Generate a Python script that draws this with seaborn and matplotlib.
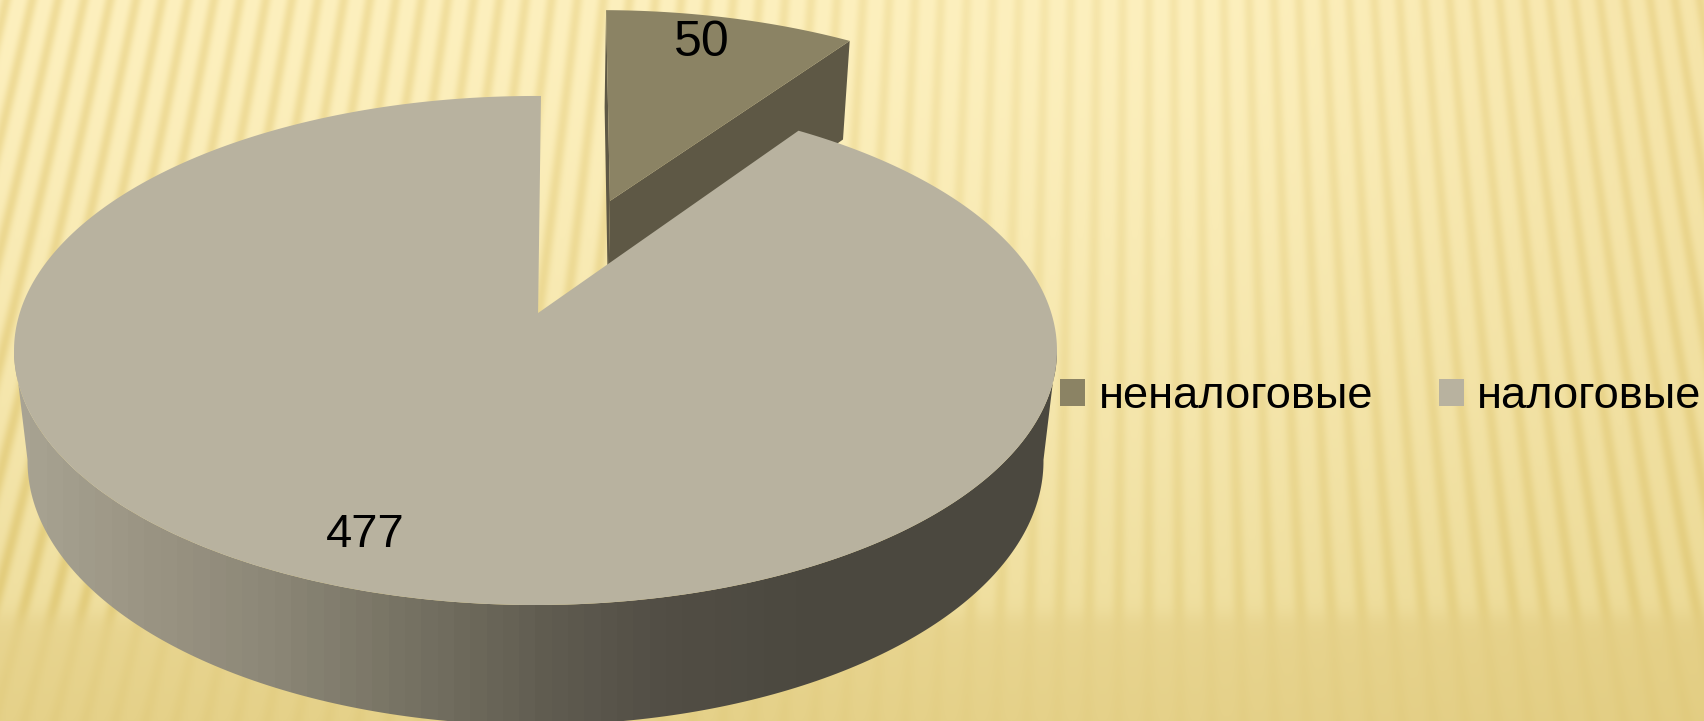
import numpy as np
import matplotlib
matplotlib.use("Agg")
import matplotlib.pyplot as plt
from matplotlib.patches import Patch, Polygon
import seaborn as sns

# Chart values
categories = ['неналоговые', 'налоговые']
values = [50, 477]

# Colours
slice_colors = ['#8B8364', '#B8B29F']
side_color = '#5E5845'
rim_stops = ['#A8A393', '#9A9483', '#8B8676', '#767263', '#625E52',
             '#524E45', '#4C4940', '#4B483F', '#4B483F']

sns.set_theme(style="white")
plt.rcParams['font.family'] = ['Liberation Sans', 'DejaVu Sans']

W, H = 1704, 721

# Perspective of the pie, in pixels of the picture
center_x, center_y = 535.5, 313
scale_u, scale_v = 515.8, 249
persp = 0.1473
thickness = 113
base_persp = 0.026
start_angle = 0.7
explode = 0.506


def project(theta, radius=1.0, shift=(0.0, 0.0), base=False):
    # theta in degrees, clockwise from the back of the pie
    t = np.radians(theta)
    u = radius * np.sin(t) + shift[0]
    v = radius * np.cos(t) + shift[1]
    w = 1 + persp * v + (base_persp if base else 0)
    x = center_x + scale_u * u / w
    y = center_y - (scale_v * v - (thickness if base else 0)) / w
    return np.column_stack([x, y])


def background():
    x, y = np.meshgrid(np.arange(W), np.arange(H))
    tilt = np.interp(x, [0, 1150, 1704], [0.25, 0.0, -0.18])
    phase = (x + tilt * (y - 360)) / 28.0
    stripe = (0.5 + 0.5 * np.cos(2 * np.pi * phase)) ** 2
    t = y / (H - 1)
    fade = 1 / (1 + np.exp((y - 615) / 6.0))
    side = np.clip((x - 1200) / 500.0, 0, 1)
    right = side * (1 - t) + side * t * 0.3
    light = np.array([253, 240, 190])[None, None, :] * (1 - t[..., None] ** 1.3) \
        + np.array([236, 219, 152])[None, None, :] * t[..., None] ** 1.3
    light = light - np.array([7, 11, 20])[None, None, :] * right[..., None]
    light = light - np.array([7, 10, 15])[None, None, :] * (1 - fade[..., None])
    across = np.interp(x, [0, 700, 1000, 1300, 1704], [1.0, 0.8, 0.5, 0.6, 0.7])
    amp = (0.2 + 0.8 * fade) * across
    img = light - np.array([13, 19, 36])[None, None, :] * (stripe * amp)[..., None]
    return np.clip(img, 0, 255).astype(np.uint8)


fig = plt.figure(figsize=(W / 100, H / 100), dpi=100)
ax = fig.add_axes([0, 0, 1, 1])
ax.imshow(background(), extent=(0, W, H, 0), aspect='auto', zorder=0)

# Angles of the two slices
sweeps = 360 * np.array(values) / np.sum(values)
small_end = start_angle + sweeps[0]
mid = np.radians(start_angle + sweeps[0] / 2)
shift = (explode * np.sin(mid), explode * np.cos(mid))

# Pulled out slice: side faces first, then the top
arc_small = np.linspace(start_angle, small_end, 60)
apex_top = project(0, 0, shift)
apex_base = project(0, 0, shift, base=True)
for edge in (start_angle, small_end):
    face = np.vstack([apex_top, project(edge, 1, shift), project(edge, 1, shift, base=True), apex_base])
    ax.add_patch(Polygon(face, closed=True, fc=side_color, ec='none', zorder=2))
ax.add_patch(Polygon(np.vstack([apex_top, project(arc_small, 1, shift)]), closed=True,
                     fc=slice_colors[0], ec='none', zorder=3))

# Large slice: rim with gradient clipped to its outline, then the top
rim_theta = np.linspace(98, 262, 200)
rim_outline = np.vstack([project(rim_theta), project(rim_theta[::-1], base=True)])
rim_patch = Polygon(rim_outline, closed=True, fc='none', ec='none', zorder=4)
ax.add_patch(rim_patch)
rim_cmap = sns.blend_palette(rim_stops, n_colors=64, as_cmap=True)
rim_img = ax.imshow(np.linspace(0, 1, 64)[None, :], extent=(14, 1057, 730, 340), cmap=rim_cmap,
                    aspect='auto', zorder=4, interpolation='nearest')
rim_img.set_clip_path(rim_patch)

arc_large = np.linspace(small_end, start_angle + 360, 400)
apex_large = project(0, 0, (0.005, 0.0))
ax.add_patch(Polygon(np.vstack([apex_large, project(arc_large)]), closed=True,
                     fc=slice_colors[1], ec='none', zorder=5))

# Value labels
ax.text(701.5, 43, str(values[0]), fontsize=36, color='black', ha='center', va='center', zorder=6)
ax.text(365, 535, str(values[1]), fontsize=34, color='black', ha='center', va='center', zorder=6)

# Legend
handles = [Patch(fc=c, ec='none', label=n) for c, n in zip(slice_colors, categories)]
ax.legend(handles=handles, loc='center left', bbox_to_anchor=(1060, 397), bbox_transform=ax.transData,
          ncol=2, frameon=False, fontsize=32.6, handlelength=0.55, handleheight=0.53,
          handletextpad=0.3, columnspacing=1.45, borderpad=0, borderaxespad=0, labelcolor='black')

ax.set_xlim(0, W)
ax.set_ylim(H, 0)
ax.axis('off')

plt.savefig('out.png', dpi=100)
